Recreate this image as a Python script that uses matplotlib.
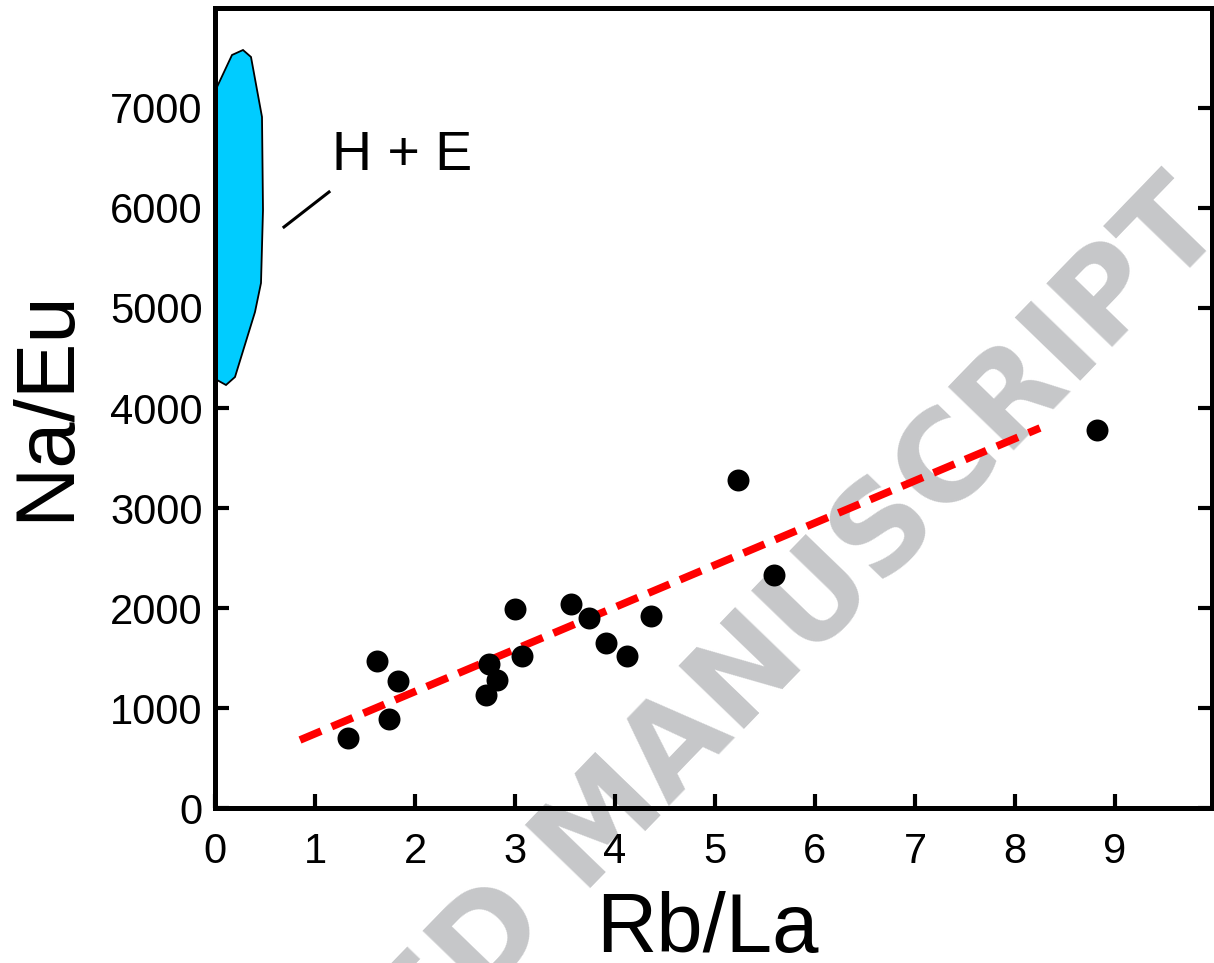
import matplotlib
matplotlib.use("Agg")
import matplotlib.pyplot as plt

plt.rcParams["font.family"] = ["Liberation Sans", "DejaVu Sans"]

# 樣品點 (Rb/La, Na/Eu)
rb_la = [1.33, 1.62, 1.74, 1.83, 2.71, 2.74, 2.82, 3.00, 3.07, 3.56,
         3.74, 3.91, 4.12, 4.36, 5.23, 5.59, 8.82]
na_eu = [700, 1470, 890, 1275, 1130, 1440, 1280, 1990, 1520, 2040,
         1905, 1655, 1520, 1920, 3280, 2330, 3780]

# 趨勢線 (紅色虛線)
trend_x = [0.85, 8.25]
trend_y = [680, 3800]

# H + E 範圍
blob_x = [0.0, 0.02, 0.17, 0.28, 0.36, 0.47, 0.48, 0.46, 0.40, 0.20, 0.11, 0.02, 0.0]
blob_y = [7210, 7210, 7530, 7580, 7510, 6910, 5980, 5250, 4960, 4310, 4230, 4280, 4280]
blob_label = "H + E"
leader_x = [0.69, 1.14]
leader_y = [5810, 6160]

x_ticks = list(range(0, 10))
y_ticks = list(range(0, 8000, 1000))

fig = plt.figure(figsize=(12.14, 9.63), dpi=100)
ax = fig.add_axes([215 / 1214, 155 / 963, 997 / 1214, 800 / 963])
ax.patch.set_alpha(0)

ax.fill(blob_x, blob_y, facecolor="#00CCFF", edgecolor="black", linewidth=1.3, zorder=2)
ax.plot(leader_x, leader_y, color="black", linewidth=2.2, zorder=3)
ax.text(1.17, 6520, blob_label, fontsize=40, va="center", ha="left")

line, = ax.plot(trend_x, trend_y, color="#FF0000", linewidth=5.5, zorder=3,
                solid_capstyle="butt", dash_capstyle="butt")
line.set_dashes([3.0, 1.5])
ax.scatter(rb_la, na_eu, s=250, color="black", linewidths=0, zorder=4)

ax.set_xlim(0, 9.97)
ax.set_ylim(0, 8000)
ax.set_xticks(x_ticks)
ax.set_yticks(y_ticks)

for sp in ax.spines.values():
    sp.set_linewidth(3.6)

ax.tick_params(axis="both", direction="in", length=10, width=3, labelsize=30)
ax.tick_params(axis="y", right=True, pad=9)
ax.tick_params(axis="x", top=False, pad=17)

ax.set_xlabel("Rb/La", fontsize=60)
ax.set_ylabel("Na/Eu", fontsize=60)
ax.xaxis.set_label_coords(0.494, -0.104)
ax.yaxis.set_label_coords(-0.13, 0.503)

# 浮水印
fig.text(1228 / 1214, 1 - 228 / 963, "ACCEPTED MANUSCRIPT", fontsize=90,
         family="DejaVu Sans", weight="bold", color="#C6C7C9",
         rotation=46, rotation_mode="anchor", ha="right", va="baseline", zorder=-1)

fig.savefig("out.png", dpi=100)
